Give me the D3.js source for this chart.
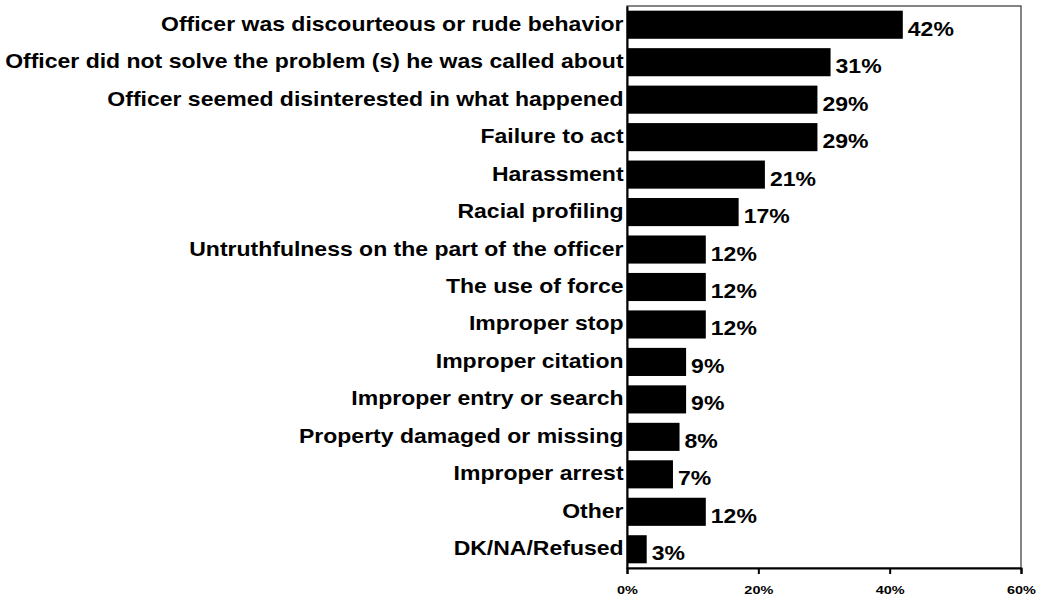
<!DOCTYPE html>
<html><head><meta charset="utf-8">
<script src="https://cdn.jsdelivr.net/npm/d3@7"></script>
<style>body{margin:0;background:#fff;} svg{display:block;}</style>
</head><body>
<svg id="c" width="1037" height="598"></svg>
<script>
const categories = ["Officer was discourteous or rude behavior","Officer did not solve the problem (s) he was called about","Officer seemed disinterested in what happened","Failure to act","Harassment","Racial profiling","Untruthfulness on the part of the officer","The use of force","Improper stop","Improper citation","Improper entry or search","Property damaged or missing","Improper arrest","Other","DK/NA/Refused"];
const values = [42,31,29,29,21,17,12,12,12,9,9,8,7,12,3];
const tickValues = [0,20,40,60];
const tickLabels = ["0%","20%","40%","60%"];

const FONT = "Liberation Sans, Arial, sans-serif";
const SX = 1.15;
const svg = d3.select("#c");
const m = {left:627, right:1021, top:6, bottom:568};
const x = d3.scaleLinear().domain([0,60]).range([m.left, m.right]);
const y = d3.scaleBand().domain(categories).range([m.top, m.bottom]).paddingInner(0.25).paddingOuter(0.125);

// frame
svg.append("rect").attr("x",m.left).attr("y",m.top).attr("width",m.right-m.left).attr("height",m.bottom-m.top)
  .attr("fill","none").attr("stroke","#333").attr("stroke-width",1.2);

svg.selectAll("rect.bar").data(values).enter().append("rect").attr("class","bar")
  .attr("x",x(0)).attr("y",(d,i)=>y(categories[i])).attr("width",d=>x(d)-x(0)).attr("height",y.bandwidth()).attr("fill","#000");

svg.selectAll("text.val").data(values).enter().append("text").attr("class","val")
  .attr("transform",(d,i)=>`translate(${x(d)+5},${y(categories[i])+y.bandwidth()/2+11}) scale(${SX},1)`)
  .attr("font-family",FONT).attr("font-weight","bold").attr("font-size",20).attr("fill","#000")
  .text(d=>d+"%");

const yAxis = d3.axisLeft(y).tickSize(0).tickPadding(0);
const ga = svg.append("g").attr("transform",`translate(${m.left},0)`).call(yAxis);
ga.select(".domain").attr("stroke","#000").attr("stroke-width",2);
ga.selectAll("text").attr("x",-3).attr("dy",null).attr("y",6)
  .attr("transform",`scale(${SX},1)`)
  .attr("font-family",FONT).attr("font-weight","bold").attr("font-size",20).attr("fill","#000");

const xAxis = d3.axisBottom(x).tickValues(tickValues).tickFormat((d,i)=>tickLabels[i]).tickSize(6).tickPadding(0);
const gx = svg.append("g").attr("transform",`translate(0,${m.bottom})`).call(xAxis);
gx.select(".domain").attr("stroke","#000").attr("stroke-width",2);
gx.selectAll("line").attr("stroke","#000").attr("stroke-width",2);
gx.selectAll("text").attr("dy",null).attr("y",26).attr("transform","scale(1.45,1)")
  .attr("font-family",FONT).attr("font-weight","900").attr("font-size",10).attr("fill","#000");
</script>
</body></html>
